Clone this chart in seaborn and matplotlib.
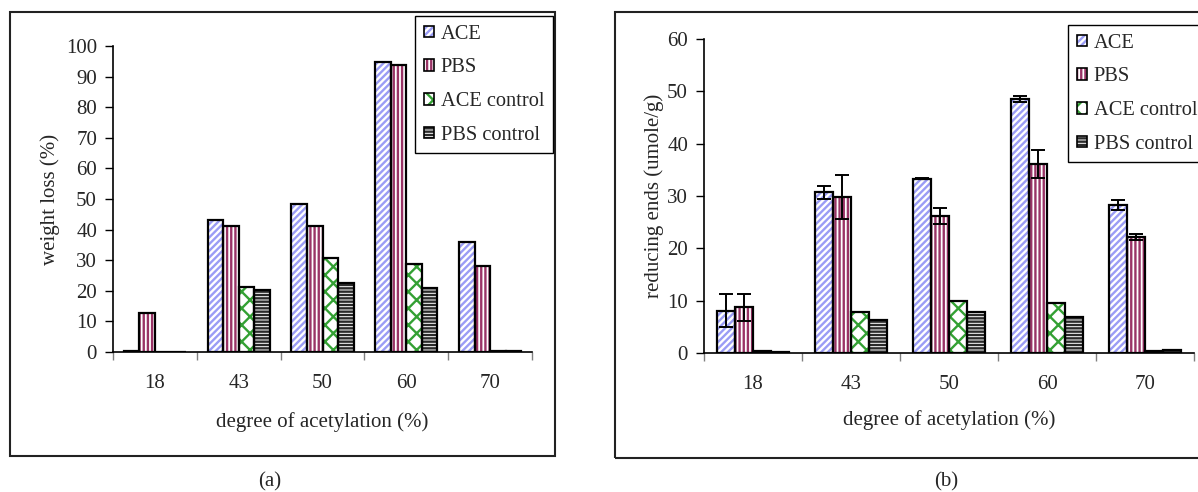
import numpy as np
import pandas as pd
import matplotlib
matplotlib.use("Agg")
import matplotlib.pyplot as plt
import seaborn as sns
from matplotlib.patches import Patch, Rectangle
from matplotlib.legend_handler import HandlerTuple

# ---- data ----
doa = ["18", "43", "50", "60", "70"]
series = ["ACE", "PBS", "ACE control", "PBS control"]

# (a) weight loss (%)
wl_ace = [0.2, 43.2, 48.4, 94.8, 36.0]
wl_pbs = [12.9, 41.2, 41.2, 93.8, 28.2]
wl_ace_ctrl = [0.0, 21.4, 30.7, 28.6, 0.4]
wl_pbs_ctrl = [0.0, 20.3, 22.4, 20.9, 0.4]

# (b) reducing ends (umole/g)
re_ace = [8.1, 30.7, 33.3, 48.5, 28.3]
re_pbs = [8.7, 29.8, 26.2, 36.1, 22.1]
re_ace_ctrl = [0.3, 7.8, 9.9, 9.6, 0.3]
re_pbs_ctrl = [0.1, 6.4, 7.8, 6.9, 0.6]
re_ace_err = [3.2, 1.3, 0.1, 0.6, 0.9]
re_pbs_err = [2.6, 4.2, 1.5, 2.7, 0.55]

# hatch colour, hatch pattern
STYLE = {
    "ACE": ("#9a9cf5", "/////"),
    "PBS": ("#993366", "||||"),
    "ACE control": ("#33a033", "xx"),
    "PBS control": ("#2a2a2a", "-----"),
}

sns.set_style("ticks")
plt.rcParams["font.family"] = ["Liberation Serif", "DejaVu Serif"]
plt.rcParams["hatch.linewidth"] = 1.7
FS = 15


def draw_panel(ax, vals, ymax, ylabel, errs=None):
    df = pd.DataFrame({
        "doa": doa * len(series),
        "series": np.repeat(series, len(doa)),
        "value": sum(vals, []),
    })
    sns.barplot(data=df, x="doa", y="value", hue="series", order=doa,
                hue_order=series, palette=["white"] * 4, width=0.74,
                linewidth=0, errorbar=None, legend=False, ax=ax)
    conts = list(ax.containers)[:4]
    for cont, s in zip(conts, series):
        hc, h = STYLE[s]
        for bar in cont:
            bar.set_facecolor("white")
            bar.set_edgecolor(hc)
            bar.set_hatch(h)
            bar.set_linewidth(0)
            ax.add_patch(Rectangle(bar.get_xy(), bar.get_width(), bar.get_height(),
                                   fill=False, edgecolor="black", lw=1.6, zorder=3))
    if errs:
        for cont, e in zip(conts, errs):
            xs = [b.get_x() + b.get_width() / 2 for b in cont]
            ys = [b.get_height() for b in cont]
            ax.errorbar(xs, ys, yerr=e, fmt="none", ecolor="black",
                        elinewidth=1.4, capsize=5, capthick=1.4, zorder=5)

    ax.set_ylim(0, ymax)
    ax.set_xlim(-0.5, len(doa) - 0.5)
    ax.set_xticks(np.arange(-0.5, len(doa), 1), minor=True)
    ax.tick_params(axis="x", which="major", length=0, pad=16, labelsize=FS)
    ax.tick_params(axis="x", which="minor", length=6, width=1, color="gray", direction="out")
    ax.tick_params(axis="y", length=6, width=1, color="black", direction="out", labelsize=FS, pad=5.5)
    sns.despine(ax=ax)
    for sp in ["left", "bottom"]:
        ax.spines[sp].set_color("black")
        ax.spines[sp].set_linewidth(1.2)
    ax.set_xlabel("degree of acetylation (%)", fontsize=FS)
    ax.set_ylabel(ylabel, fontsize=FS)


fig = plt.figure(figsize=(11.98, 4.92), dpi=100)
W, H = 1198, 492

ax1 = fig.add_axes([113 / W, 1 - 352 / H, 419 / W, 306 / H])
draw_panel(ax1, [wl_ace, wl_pbs, wl_ace_ctrl, wl_pbs_ctrl], 100, "weight loss (%)")
ax1.set_yticks(range(0, 101, 10))
ax1.yaxis.set_label_coords(-53 / 419, 0.5)
ax1.xaxis.set_label_coords(0.5, -60 / 306)

ax2 = fig.add_axes([704 / W, 1 - 353 / H, 490 / W, 314 / H])
draw_panel(ax2, [re_ace, re_pbs, re_ace_ctrl, re_pbs_ctrl], 60, "reducing ends (umole/g)",
           errs=[re_ace_err, re_pbs_err])
ax2.set_yticks(range(0, 61, 10))
ax2.yaxis.set_label_coords(-40 / 490, 0.5)
ax2.xaxis.set_label_coords(0.5, -57 / 314)

# outer frames
fig.add_artist(Rectangle((10 / W, 1 - 456 / H), 545 / W, 444 / H, transform=fig.transFigure,
                         fill=False, lw=1.5, ec="#222222"))
fig.add_artist(Rectangle((615 / W, 1 - 458 / H), 650 / W, 446 / H, transform=fig.transFigure,
                         fill=False, lw=1.5, ec="#222222"))

# legends
handles = [(Patch(facecolor="white", edgecolor=STYLE[s][0], hatch=STYLE[s][1], lw=0),
            Patch(fill=False, edgecolor="black", lw=1.2)) for s in series]
for anchor in [(415 / W, 1 - 16 / H), (1068 / W, 1 - 25 / H)]:
    fig.legend(handles, series, loc="upper left", bbox_to_anchor=anchor,
               handler_map={tuple: HandlerTuple(ndivide=1)}, fontsize=14.7,
               frameon=True, fancybox=False, edgecolor="black", framealpha=1,
               handlelength=0.5, handleheight=0.5, handletextpad=0.35,
               labelspacing=0.72, borderpad=0.42, borderaxespad=0)

fig.text(270 / W, 1 - 482 / H, "(a)", ha="center", va="center", fontsize=FS)
fig.text(946 / W, 1 - 482 / H, "(b)", ha="center", va="center", fontsize=FS)

fig.savefig("out.png", dpi=100)
